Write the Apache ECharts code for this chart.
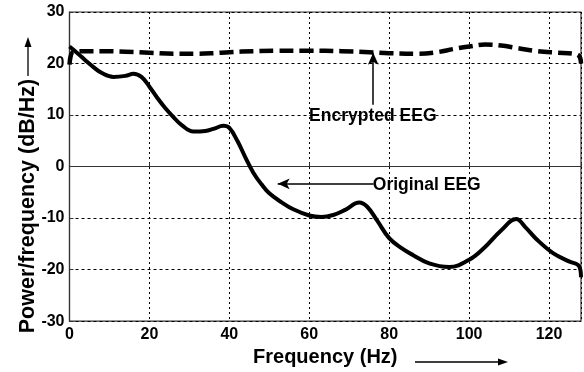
<!DOCTYPE html>
<html>
<head>
<meta charset="utf-8">
<script src="https://cdn.jsdelivr.net/npm/echarts@6/dist/echarts.min.js"></script>
<style>html,body{margin:0;padding:0;background:#fff}#c{width:584px;height:372px}</style>
</head>
<body>
<div id="c"></div>
<script>
// ---- data ----
const origFreq = [0, 2, 4, 6, 8, 11, 14, 16, 18, 20, 22, 24, 26, 28, 31, 34, 36, 38.5, 40, 42, 44, 46, 48, 50, 53, 56, 60, 63, 66, 69, 72.5, 74.5, 77, 80, 83, 86, 90, 95, 100, 104, 108, 111.8, 114, 117, 121, 125, 127.5, 128];
const origPower = [23.3, 22, 20.6, 19.3, 18.2, 17.4, 17.6, 18, 17.4, 15.5, 13.3, 11.3, 9.6, 8.1, 6.8, 6.9, 7.3, 7.9, 7.5, 5.0, 1.8, -1.2, -3.4, -5.2, -6.9, -8.3, -9.5, -9.8, -9.4, -8.4, -7.0, -7.8, -10.5, -13.9, -15.8, -17.2, -18.8, -19.5, -18.1, -15.6, -12.4, -10.2, -11.7, -14.2, -16.8, -18.4, -19.3, -21.5];
const encFreq = [0, 1, 4, 8, 14, 20, 26, 32, 36, 40, 46, 52, 60, 68, 75, 80, 87, 92, 96, 100, 104, 108, 112, 117, 122, 126, 127.5, 128];
const encPower = [19.8, 22.3, 22.4, 22.4, 22.3, 22.1, 21.9, 21.9, 22.0, 22.2, 22.4, 22.5, 22.5, 22.4, 22.2, 22.0, 21.9, 22.2, 22.8, 23.3, 23.7, 23.5, 23.0, 22.4, 22.1, 21.9, 21.5, 20.0];
const xTicks = [0, 20, 40, 60, 80, 100, 120];
const yTicks = [-30, -20, -10, 0, 10, 20, 30];
const labels = {encrypted: 'Encrypted EEG', original: 'Original EEG', xTitle: 'Frequency (Hz)', yTitle: 'Power/frequency (dB/Hz)'};
const encArrow = [[76, 12], [76, 22.1]];
const encLabelAt = [75.9, 9.8];
const origArrow = [[76.1, -3.35], [52.1, -3.35]];
const origLabelAt = [89.4, -3.6];

const FONT = 'Liberation Sans, Arial, sans-serif';
const pair = (xs, ys) => xs.map((x, i) => [x, ys[i]]);

const chart = echarts.init(document.getElementById('c'));
chart.setOption({
  animation: false,
  backgroundColor: '#fff',
  grid: {left: 69.5, right: 2, top: 12, bottom: 47, show: true, borderColor: '#333', borderWidth: 1.2, backgroundColor: 'transparent'},
  xAxis: {
    type: 'value', min: 0, max: 128, interval: 20,
    name: labels.xTitle, nameLocation: 'middle', nameGap: 23,
    nameTextStyle: {fontFamily: FONT, fontWeight: 'bold', fontSize: 20, color: '#000'},
    axisLine: {show: true, lineStyle: {color: '#333', width: 1.2}},
    axisTick: {show: true, inside: true, length: 4, lineStyle: {color: '#333'}},
    axisLabel: {fontFamily: FONT, fontWeight: 'bold', fontSize: 16, color: '#000', margin: 5,
      formatter: v => xTicks.indexOf(v) >= 0 ? String(v) : ''},
    splitLine: {show: true, lineStyle: {color: '#000', type: [2, 3], width: 1}}
  },
  yAxis: {
    type: 'value', min: -30, max: 30, interval: 10,
    axisLine: {show: true, lineStyle: {color: '#333', width: 1.2}},
    axisTick: {show: true, inside: true, length: 4, lineStyle: {color: '#333'}},
    axisLabel: {fontFamily: FONT, fontWeight: 'bold', fontSize: 16, color: '#000', margin: 5,
      formatter: v => yTicks.indexOf(v) >= 0 ? String(v) : ''},
    splitLine: {show: true, lineStyle: {color: '#000', type: [3, 3], width: 1}}
  },
  series: [
    {
      name: labels.encrypted, type: 'line', data: pair(encFreq, encPower),
      smooth: 0.4, symbol: 'none',
      lineStyle: {color: '#000', width: 4.5, type: [14, 6]},
      markLine: {
        silent: true, symbol: ['none', 'arrow'], symbolSize: [8, 12],
        lineStyle: {color: '#000', width: 1.5, type: 'solid'}, label: {show: false},
        data: [[{coord: encArrow[0]}, {coord: encArrow[1]}]]
      },
      markPoint: {
        silent: true, symbol: 'circle', symbolSize: 0,
        label: {show: true, position: 'inside', formatter: labels.encrypted, fontFamily: FONT, fontWeight: 'bold', fontSize: 17.5, color: '#000'},
        data: [{coord: encLabelAt}]
      }
    },
    {
      name: labels.original, type: 'line', data: pair(origFreq, origPower),
      smooth: 0.4, symbol: 'none',
      lineStyle: {color: '#000', width: 4},
      markLine: {
        silent: true, symbol: ['none', 'arrow'], symbolSize: [8, 12],
        lineStyle: {color: '#000', width: 1.5, type: 'solid'}, label: {show: false},
        data: [[{coord: origArrow[0]}, {coord: origArrow[1]}]]
      },
      markPoint: {
        silent: true, symbol: 'circle', symbolSize: 0,
        label: {show: true, position: 'inside', formatter: labels.original, fontFamily: FONT, fontWeight: 'bold', fontSize: 17.5, color: '#000'},
        data: [{coord: origLabelAt}]
      }
    }
  ],
  graphic: [
    {type: 'text', x: 28, y: 206, rotation: Math.PI / 2,
      style: {text: labels.yTitle, font: 'bold 21.5px ' + FONT, fill: '#000', align: 'center', verticalAlign: 'middle'}},
    {type: 'line', shape: {x1: 28, y1: 76, x2: 28, y2: 44}, style: {stroke: '#000', lineWidth: 1.3}},
    {type: 'polygon', shape: {points: [[28, 37], [24.5, 47], [31.5, 47]]}, style: {fill: '#000'}},
    {type: 'line', shape: {x1: 415, y1: 362, x2: 500, y2: 362}, style: {stroke: '#000', lineWidth: 1.3}},
    {type: 'polygon', shape: {points: [[508, 362], [498, 358.5], [498, 365.5]]}, style: {fill: '#000'}}
  ]
});
</script>
</body>
</html>
